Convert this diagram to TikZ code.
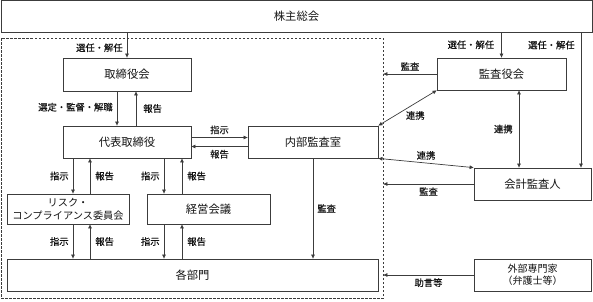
\documentclass[tikz,border=0pt]{standalone}
\usepackage{fontspec}
\setmainfont{Noto Sans CJK JP}
\newfontfamily\lblfont{Noto Sans CJK JP}[FakeBold=0.6]
\usetikzlibrary{arrows.meta,positioning}
\definecolor{ink}{RGB}{60,60,60}
\definecolor{txt}{RGB}{20,20,20}
\tikzset{
  every picture/.style={color=ink, line width=0.8pt},
  box/.style={draw=ink, fill=white, inner sep=2pt, align=center, text=txt, font=\fontsize{11.3}{13}\selectfont},
  flow/.style={-{Triangle[length=4pt,width=3.5pt]}, line width=0.7pt},
  both/.style={{Triangle[length=4pt,width=3.5pt]}-{Triangle[length=4pt,width=3.5pt]}, line width=0.7pt},
  lbl/.style={font=\lblfont\fontsize{9.3}{10}\selectfont, text=txt, inner sep=1pt},
  frame/.style={draw=ink, dash pattern=on 2.5pt off 1.5pt, line width=0.7pt},
}

\begin{document}
\begin{tikzpicture}[x=1pt,y=-1pt]
  \useasboundingbox (0,0) rectangle (593,301);
  % company frame
  \node[frame, minimum width=382pt, minimum height=260pt] (grp) at (192,168) {};
  \node[box, minimum width=591pt, minimum height=32pt] (soukai) at (296.5,16.5) {株主総会};
  \node[box, minimum width=128pt, minimum height=33pt] (board) at (127,74.5) {取締役会};
  \node[box, minimum width=128pt, minimum height=32pt] (ceo) at (127,142) {代表取締役};
  \node[box, minimum width=130pt, minimum height=32pt] (audit) at (313,142) {内部監査室};
  \node[box, minimum width=122pt, minimum height=30pt, font=\fontsize{10.2}{13}\selectfont] (risk) at (68,209) {リスク・\\コンプライアンス委員会};
  \node[box, minimum width=123pt, minimum height=30pt] (keiei) at (208.5,209) {経営会議};
  \node[box, minimum width=371pt, minimum height=32pt] (bumon) at (192.5,275) {各部門};
  \node[box, minimum width=129pt, minimum height=32pt] (kansa) at (501.5,74) {監査役会};
  \node[box, minimum width=117pt, minimum height=32pt] (kaikei) at (532.5,184) {会計監査人};
  \node[box, minimum width=117pt, minimum height=32pt, font=\fontsize{10}{11.5}\selectfont] (expert) at (532.5,275) {外部専門家\\（弁護士等）};
  \coordinate (kx) at (581,0);

  % shareholders
  \draw[flow] (soukai.south -| board.north) -- node[lbl, left=3pt, pos=0.6] {選任・解任} (board.north);
  \draw[flow] (soukai.south -| kansa.north) -- node[lbl, left=6pt, pos=0.48] {選任・解任} (kansa.north);
  \draw[flow] (soukai.south -| kx) -- node[lbl, left=5pt, pos=0.09] {選任・解任} (kaikei.north -| kx);

  % inside the company
  \draw[flow] ([xshift=-10pt]board.south) -- node[lbl, left=3pt, pos=0.46] {選定・監督・解職} ([xshift=-10pt]ceo.north);
  \draw[flow] ([xshift=9pt]ceo.north) -- node[lbl, right=6pt] {報告} ([xshift=9pt]board.south);
  \draw[flow] ([yshift=4.5pt]ceo.east) -- node[lbl, above=2pt] {指示} ([yshift=4.5pt]audit.west);
  \draw[flow] ([yshift=-4.5pt]audit.west) -- node[lbl, below=2pt] {報告} ([yshift=-4.5pt]ceo.east);
  \foreach \d/\u/\n in {-54/-37/risk, 37/55/keiei} {
    \draw[flow] ([xshift=\d pt]ceo.south) -- node[lbl, left=3pt] {指示} ([xshift=\d pt]ceo.south |- \n.north);
    \draw[flow] ([xshift=\u pt]ceo.south |- \n.north) -- node[lbl, right=4pt] {報告} ([xshift=\u pt]ceo.south);
    \draw[flow] ([xshift=\d pt]ceo.south |- \n.south) -- node[lbl, left=3pt] {指示} ([xshift=\d pt]ceo.south |- bumon.north);
    \draw[flow] ([xshift=\u pt]ceo.south |- bumon.north) -- node[lbl, right=4pt] {報告} ([xshift=\u pt]ceo.south |- \n.south);
  }
  \draw[flow] (audit.south) -- node[lbl, right=3pt] {監査} (audit.south |- bumon.north);

  % auditors and outside
  \draw[flow] (kansa.west) -- node[lbl, above=2pt] {監査} (kansa.west -| grp.east);
  \draw[both] (audit.north east) -- node[lbl, below right=0pt, pos=0.45] {連携} (kansa.south west);
  \draw[both] ([xshift=17.5pt]kansa.south) -- node[lbl, left=5pt] {連携} ([xshift=17.5pt]kansa.south |- kaikei.north);
  \draw[both] (audit.south east) -- node[lbl, above=2pt] {連携} (kaikei.north west);
  \draw[flow] (kaikei.west) -- node[lbl, below=2pt] {監査} (kaikei.west -| grp.east);
  \draw[flow] (expert.west) -- node[lbl, below=2pt] {助言等} (expert.west -| grp.east);
\end{tikzpicture}
\end{document}
